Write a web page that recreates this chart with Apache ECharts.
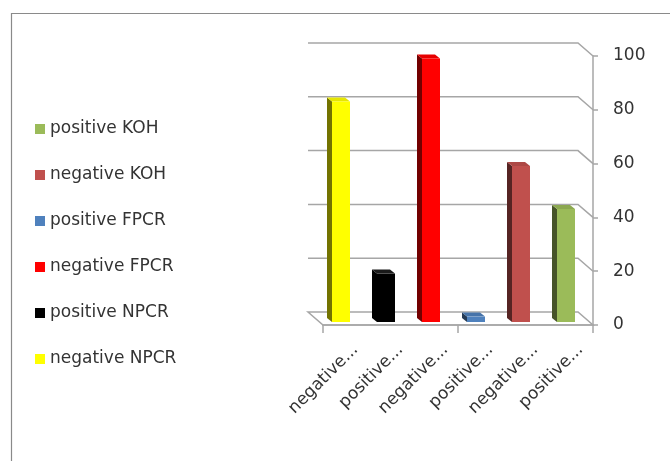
<!DOCTYPE html>
<html>
<head>
<meta charset="utf-8">
<script src="https://cdn.jsdelivr.net/npm/echarts@6/dist/echarts.min.js"></script>
<style>
  html, body { margin: 0; padding: 0; background: #fff; }
  #chart { width: 670px; height: 461px; }
</style>
</head>
<body>
<div id="chart"></div>
<script>
// Test outcome shares per method (percent)
const categories = ['negative NPCR', 'positive NPCR', 'negative FPCR', 'positive FPCR', 'negative KOH', 'positive KOH'];
const values = [82, 18, 98, 2, 58, 42];
const yTicks = [0, 20, 40, 60, 80, 100];
const legendOrder = ['positive KOH', 'negative KOH', 'positive FPCR', 'negative FPCR', 'positive NPCR', 'negative NPCR'];

// Fill colour for each column
const barColors = ['#FFFF00', '#000000', '#FF0000', '#4F81BD', '#C0504D', '#9BBB59'];

const FONT = 'DejaVu Sans';
const TEXT = '#333333';
const GRID_LINE = '#a6a6a6';
// perspective offset of the back wall and of each column's depth
const WALL_DX = 15, WALL_DY = 13;
const BAR_DX = 5, BAR_DY = 4;

const chart = echarts.init(document.getElementById('chart'), null, { renderer: 'canvas' });

// scale a colour's RGB channels towards black
function shade(color, k) {
  const c = echarts.color.parse(color);
  return 'rgb(' + Math.round(c[0] * k) + ',' + Math.round(c[1] * k) + ',' + Math.round(c[2] * k) + ')';
}

// Back-wall gridlines with the short diagonal running to the front axis, plus the floor
function renderWall(params, api) {
  const cs = params.coordSys;
  const v = api.value(1);
  const y = api.coord([0, v])[1];
  const L = cs.x, R = cs.x + cs.width;
  const style = { stroke: GRID_LINE, lineWidth: 1.5, fill: null };
  if (v === 0) {
    return {
      type: 'polygon',
      shape: { points: [[L - WALL_DX, y - WALL_DY], [R - WALL_DX, y - WALL_DY], [R, y], [L, y]] },
      style: style
    };
  }
  return {
    type: 'polyline',
    shape: { points: [[L - WALL_DX, y - WALL_DY], [R - WALL_DX, y - WALL_DY], [R, y]] },
    style: style
  };
}

// A column drawn as a box: left side face, top face, then front face
function makeBarRenderer(color) {
  const side = shade(color, 0.45);
  const topC = color === '#000000' ? '#1a1a1a' : shade(color, 0.9);
  return function (params, api) {
    const i = api.value(0), v = api.value(1);
    const band = api.size([1, 0])[0];
    const topPt = api.coord([i, v]);
    const basePt = api.coord([i, 0]);
    const w = band * 0.4;
    const shiftX = -band * 0.1, shiftY = -3;
    const cx = topPt[0] + shiftX;
    const x0 = cx - w / 2, x1 = cx + w / 2;
    const yT = topPt[1] + shiftY, yB = basePt[1] + shiftY;
    return {
      type: 'group',
      children: [
        {
          type: 'polygon',
          shape: { points: [[x0, yT], [x0, yB], [x0 - BAR_DX, yB - BAR_DY], [x0 - BAR_DX, yT - BAR_DY]] },
          style: { fill: side }
        },
        {
          type: 'polygon',
          shape: { points: [[x0, yT], [x1, yT], [x1 - BAR_DX, yT - BAR_DY], [x0 - BAR_DX, yT - BAR_DY]] },
          style: { fill: topC }
        },
        {
          type: 'rect',
          shape: { x: x0, y: yT, width: w, height: yB - yT },
          style: { fill: color }
        }
      ]
    };
  };
}

const barSeries = categories.map(function (name, idx) {
  return {
    name: name,
    type: 'custom',
    xAxisIndex: 0,
    yAxisIndex: 0,
    z: 3,
    itemStyle: { color: barColors[idx] },
    encode: { x: 0, y: 1 },
    data: [[idx, values[idx]]],
    renderItem: makeBarRenderer(barColors[idx])
  };
});

const option = {
  backgroundColor: '#ffffff',
  animation: false,
  graphic: [{
    type: 'rect',
    left: 9, top: 11,
    shape: { x: 0, y: 0, width: 700, height: 500 },
    style: { fill: null, stroke: '#8a8a8a', lineWidth: 1.2 },
    silent: true
  }],
  legend: {
    orient: 'vertical',
    left: 30,
    top: 114,
    itemWidth: 10,
    itemHeight: 10,
    itemGap: 26,
    icon: 'rect',
    data: legendOrder,
    textStyle: { fontFamily: FONT, fontSize: 17, color: TEXT, lineHeight: 20 }
  },
  grid: [
    { left: 323, right: 77, top: 56, bottom: 136 },
    { left: 333, right: 67, top: 56, bottom: 136 }
  ],
  xAxis: [
    {
      type: 'category',
      gridIndex: 0,
      data: categories,
      axisLine: { show: true, lineStyle: { color: GRID_LINE, width: 1.5 } },
      axisTick: { show: true, length: 8, lineStyle: { color: GRID_LINE, width: 1.5 } },
      axisLabel: { show: false },
      splitLine: { show: false }
    },
    {
      type: 'category',
      gridIndex: 1,
      data: categories,
      axisLine: { show: false },
      axisTick: { show: false },
      splitLine: { show: false },
      axisLabel: {
        show: true,
        interval: 0,
        rotate: 45,
        margin: 22,
        fontFamily: FONT,
        fontSize: 17,
        color: TEXT,
        formatter: function (v) { return v.split(' ')[0] + '...'; }
      }
    }
  ],
  yAxis: [
    {
      type: 'value',
      gridIndex: 0,
      position: 'right',
      min: 0, max: 100, interval: 20,
      axisLine: { show: true, lineStyle: { color: GRID_LINE, width: 1.5 } },
      axisTick: { show: true, length: 5, lineStyle: { color: GRID_LINE, width: 1.5 } },
      splitLine: { show: false },
      axisLabel: { margin: 20, fontFamily: FONT, fontSize: 17, color: TEXT }
    },
    {
      type: 'value',
      gridIndex: 1,
      min: 0, max: 100, interval: 20,
      show: false
    }
  ],
  series: [
    {
      type: 'custom',
      xAxisIndex: 0,
      yAxisIndex: 0,
      z: 1,
      silent: true,
      encode: { x: 0, y: 1 },
      data: yTicks.map(function (t) { return [0, t]; }),
      renderItem: renderWall
    }
  ].concat(barSeries)
};

chart.setOption(option);
</script>
</body>
</html>
